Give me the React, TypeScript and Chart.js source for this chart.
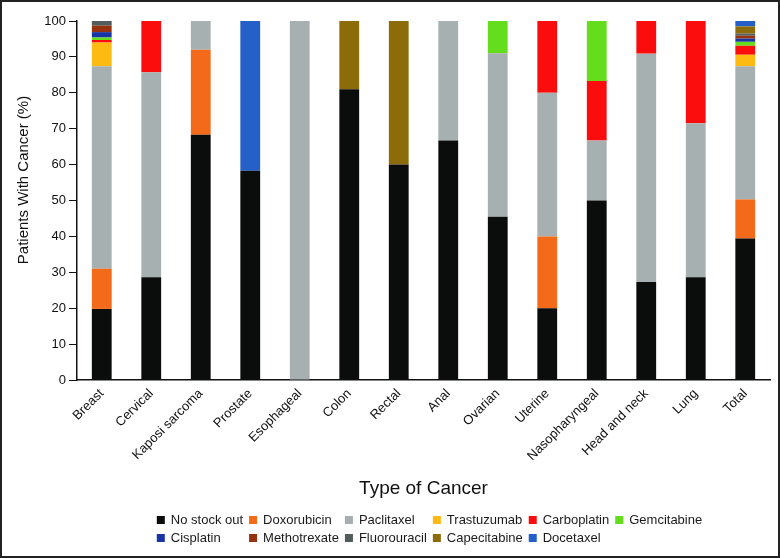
import React, { useEffect, useRef } from "react";
import { Chart, registerables } from "chart.js";

Chart.register(...registerables);

const categories = [
  "Breast",
  "Cervical",
  "Kaposi sarcoma",
  "Prostate",
  "Esophageal",
  "Colon",
  "Rectal",
  "Anal",
  "Ovarian",
  "Uterine",
  "Nasopharyngeal",
  "Head and neck",
  "Lung",
  "Total",
];

const noStockOut = [19.8, 28.6, 68.3, 58.3, 0, 81, 60, 66.7, 45.5, 20, 50, 27.3, 28.6, 39.4];
const doxorubicin = [11.2, 0, 23.7, 0, 0, 0, 0, 0, 0, 20, 0, 0, 0, 10.9];
const paclitaxel = [56.4, 57.1, 8.0, 0, 100, 0, 0, 33.3, 45.5, 40, 16.7, 63.6, 42.9, 37.1];
const trastuzumab = [6.6, 0, 0, 0, 0, 0, 0, 0, 0, 0, 0, 0, 0, 3.2];
const carboplatin = [0.7, 14.3, 0, 0, 0, 0, 0, 0, 0, 20, 16.6, 9.1, 28.5, 2.5];
const gemcitabine = [0.7, 0, 0, 0, 0, 0, 0, 0, 9, 0, 16.7, 0, 0, 1.1];
const cisplatin = [1.5, 0, 0, 0, 0, 0, 0, 0, 0, 0, 0, 0, 0, 0.9];
const methotrexate = [1.8, 0, 0, 0, 0, 0, 0, 0, 0, 0, 0, 0, 0, 0.8];
const fluorouracil = [1.3, 0, 0, 0, 0, 0, 0, 0, 0, 0, 0, 0, 0, 0.6];
const capecitabine = [0, 0, 0, 0, 0, 19, 40, 0, 0, 0, 0, 0, 0, 2.0];
const docetaxel = [0, 0, 0, 41.7, 0, 0, 0, 0, 0, 0, 0, 0, 0, 1.5];

const seriesNames = [
  "No stock out",
  "Doxorubicin",
  "Paclitaxel",
  "Trastuzumab",
  "Carboplatin",
  "Gemcitabine",
  "Cisplatin",
  "Methotrexate",
  "Fluorouracil",
  "Capecitabine",
  "Docetaxel",
];
const seriesValues = [
  noStockOut,
  doxorubicin,
  paclitaxel,
  trastuzumab,
  carboplatin,
  gemcitabine,
  cisplatin,
  methotrexate,
  fluorouracil,
  capecitabine,
  docetaxel,
];
const seriesColors = [
  "#0b0c0c",
  "#f26a1a",
  "#a7b0b0",
  "#fdbb12",
  "#fb0d0d",
  "#63dd1c",
  "#1834a4",
  "#973211",
  "#535c5c",
  "#8b6c08",
  "#2460c8",
];

const yTitle = "Patients With Cancer (%)";
const xTitle = "Type of Cancer";
const yMin = 0;
const yMax = 100;
const yStep = 10;

const FONT = '"Liberation Sans", Arial, Helvetica, sans-serif';

const yTitlePlugin = {
  id: "yTitlePlugin",
  afterDraw(chart: any) {
    const ctx = chart.ctx;
    ctx.save();
    ctx.font = `15px ${FONT}`;
    ctx.fillStyle = "#111";
    ctx.textAlign = "center";
    ctx.textBaseline = "middle";
    ctx.translate(24, 180);
    ctx.rotate(-Math.PI / 2);
    ctx.fillText(yTitle, 0, 0);
    ctx.restore();
  },
};

const gridLegendPlugin = {
  id: "gridLegendPlugin",
  afterDraw(chart: any) {
    const ctx = chart.ctx;
    const ds = chart.data.datasets;
    const cols = 6;
    const rows = Math.ceil(ds.length / cols);
    const box = 8;
    const gap = 6;
    const colGap = 6;
    ctx.save();
    ctx.font = `13px ${FONT}`;
    const widths: number[] = [];
    for (let c = 0; c < cols; c++) {
      let w = 0;
      for (let r = 0; r < rows; r++) {
        const i = r * cols + c;
        if (i < ds.length) w = Math.max(w, ctx.measureText(ds[i].label).width);
      }
      widths.push(w);
    }
    const total =
      widths.reduce((a, w) => a + box + gap + w, 0) + colGap * (cols - 1);
    const area = chart.chartArea;
    const x0 = (area.left + area.right) / 2 - total / 2 + 6;
    const rowYs = [520, 538];
    ctx.textBaseline = "middle";
    ctx.textAlign = "left";
    for (let r = 0; r < rows; r++) {
      let x = x0;
      for (let c = 0; c < cols; c++) {
        const i = r * cols + c;
        if (i < ds.length) {
          const y = rowYs[r];
          ctx.fillStyle = ds[i].backgroundColor;
          ctx.fillRect(x, y - box / 2, box, box);
          ctx.fillStyle = "#1a1a1a";
          ctx.fillText(ds[i].label, x + box + gap, y + 0.5);
        }
        x += box + gap + widths[c] + colGap;
      }
    }
    ctx.restore();
  },
};

export default function App() {
  const canvasRef = useRef<HTMLCanvasElement | null>(null);

  useEffect(() => {
    const canvas = canvasRef.current;
    if (!canvas) return;
    const yTicks: number[] = [];
    for (let v = yMin; v <= yMax; v += yStep) yTicks.push(v);

    const chart = new Chart(canvas, {
      type: "bar",
      data: {
        labels: categories,
        datasets: seriesNames.map((name, i) => ({
          label: name,
          data: seriesValues[i],
          backgroundColor: seriesColors[i],
          borderWidth: 0,
          barPercentage: 0.4,
          categoryPercentage: 1,
        })),
      },
      options: {
        animation: false,
        responsive: false,
        devicePixelRatio: 1,
        layout: { padding: { left: 0, right: 10, top: 21, bottom: 58 } },
        plugins: {
          legend: { display: false },
          tooltip: { enabled: false },
        },
        scales: {
          x: {
            stacked: true,
            offset: true,
            grid: { display: false, drawTicks: false },
            border: { display: true, color: "#111", width: 1.5 },
            ticks: {
              autoSkip: false,
              maxRotation: 45,
              minRotation: 45,
              padding: 6,
              color: "#111",
              font: { family: FONT, size: 13 },
            },
            title: {
              display: true,
              text: xTitle,
              color: "#111",
              font: { family: FONT, size: 19 },
              padding: { top: 0, bottom: 0 },
            },
            afterFit: (scale: any) => {
              scale.height = 120;
            },
          },
          y: {
            stacked: true,
            min: yMin,
            max: yMax,
            afterBuildTicks: (scale: any) => {
              scale.ticks = yTicks.map((v) => ({ value: v }));
            },
            grid: {
              drawOnChartArea: false,
              drawTicks: true,
              tickLength: 8,
              color: "#111",
              lineWidth: 1,
            },
            border: { display: true, color: "#111", width: 1.5 },
            ticks: {
              padding: 3,
              color: "#111",
              font: { family: FONT, size: 13 },
            },
            afterFit: (scale: any) => {
              scale.width = 77;
            },
          },
        },
      },
      plugins: [yTitlePlugin, gridLegendPlugin],
    });

    return () => chart.destroy();
  }, []);

  return (
    <div
      style={{
        position: "fixed",
        left: 0,
        top: 0,
        width: 780,
        height: 558,
        background: "#fff",
      }}
    >
      <canvas
        ref={canvasRef}
        width={780}
        height={558}
        style={{ display: "block", width: 780, height: 558 }}
      />
      <div
        style={{
          position: "absolute",
          left: 0,
          top: 0,
          width: 780,
          height: 558,
          boxSizing: "border-box",
          border: "2px solid #222",
          pointerEvents: "none",
        }}
      />
    </div>
  );
}
